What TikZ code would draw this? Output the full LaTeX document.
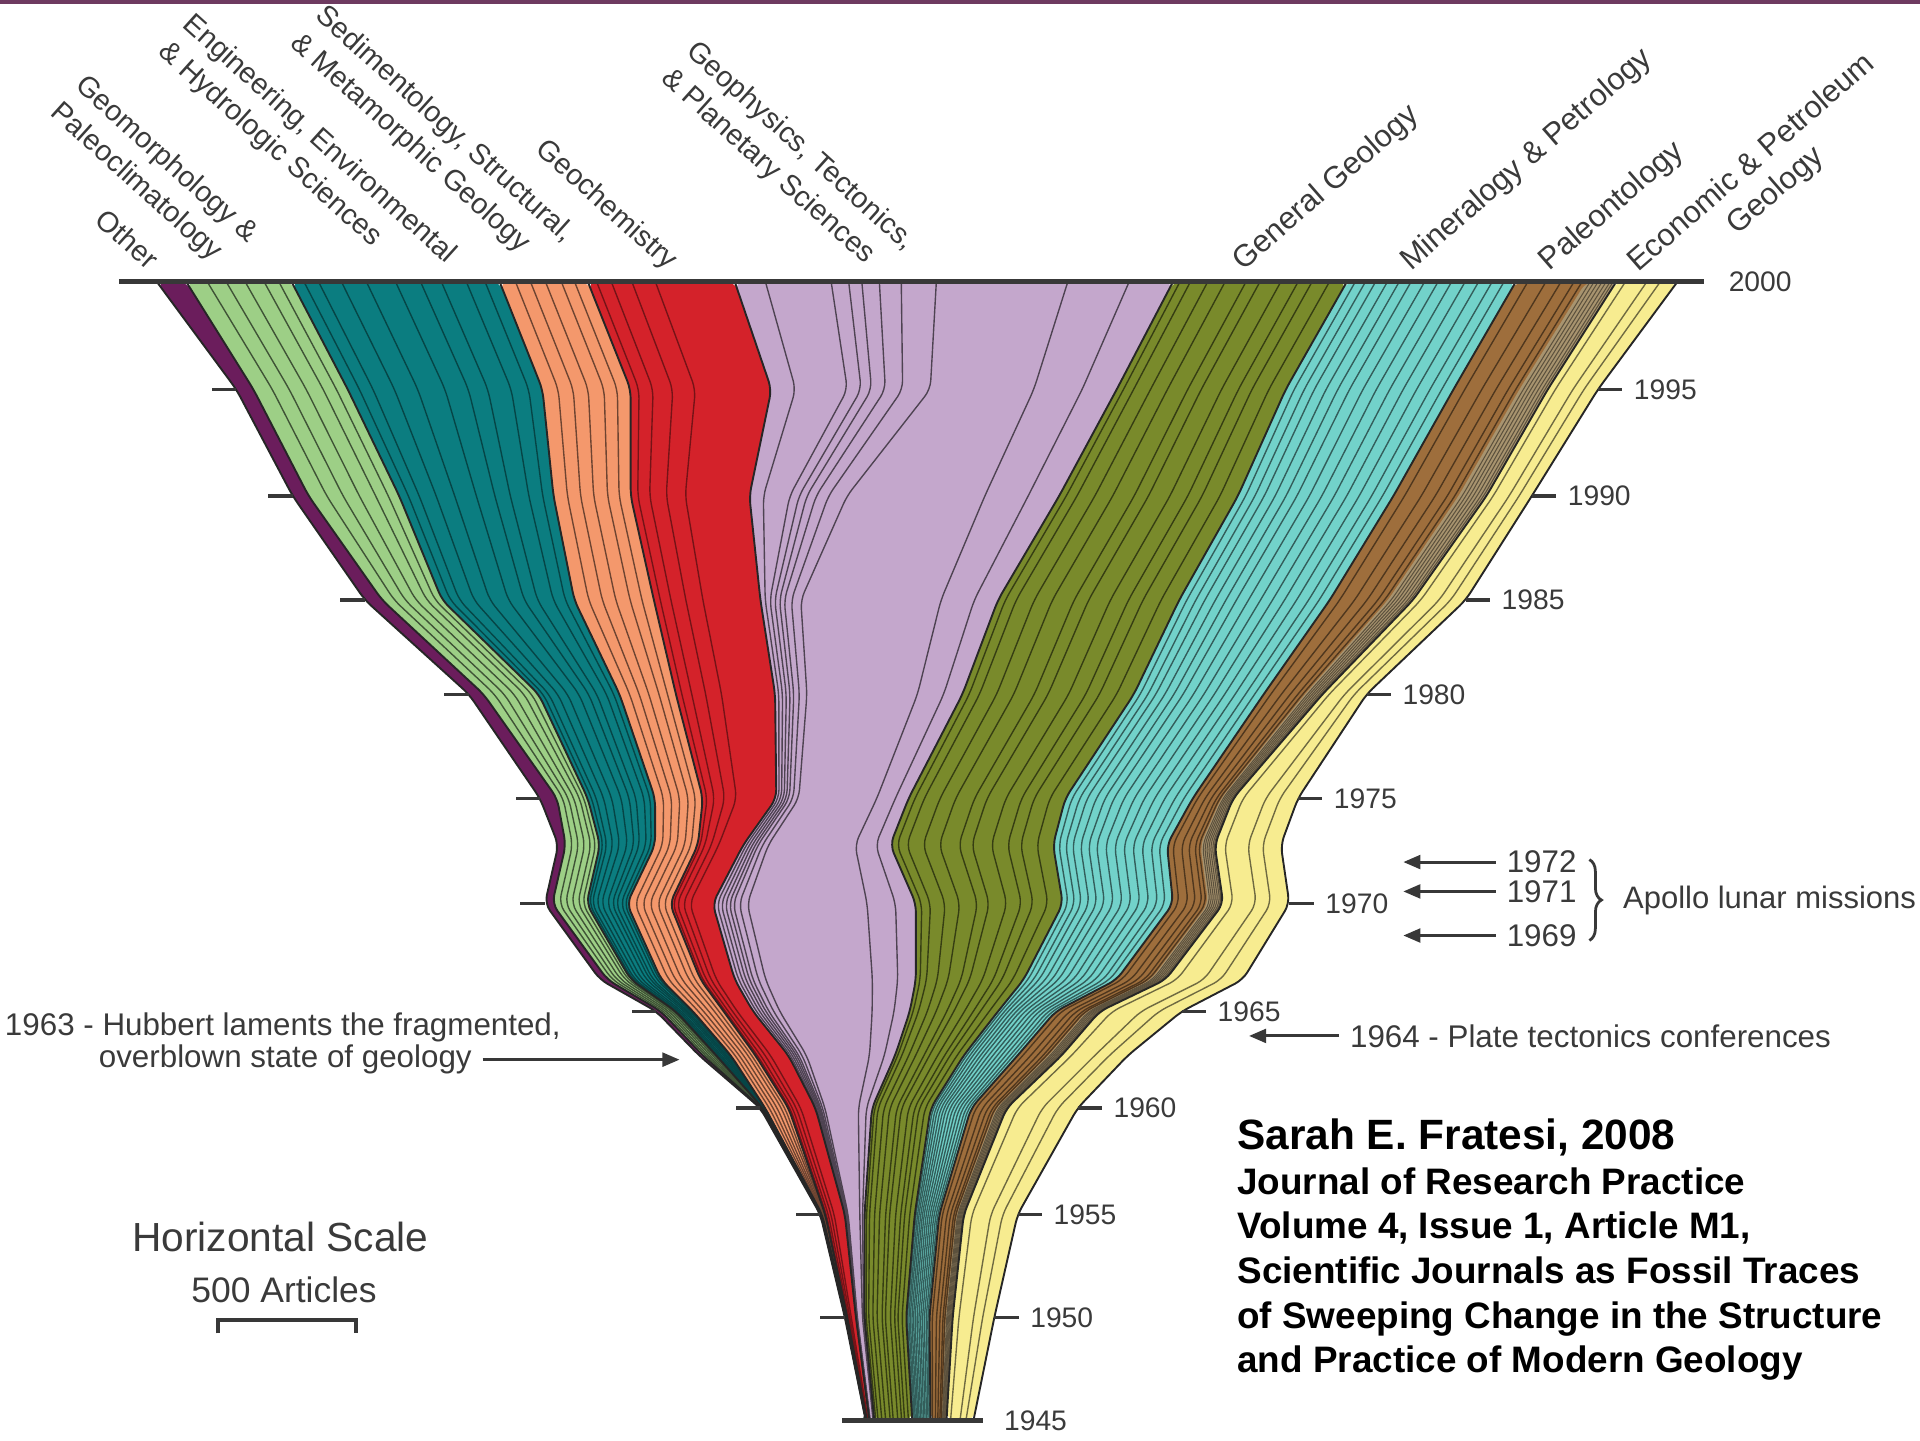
\documentclass[tikz,border=0pt]{standalone}
\usepackage{fontspec}
\setmainfont{Liberation Sans}
\usetikzlibrary{calc,arrows.meta,decorations.pathreplacing}

\definecolor{otherc}{HTML}{6B1D5C}
\definecolor{geomorc}{HTML}{9DCF86}
\definecolor{engc}{HTML}{0B7D80}
\definecolor{sedc}{HTML}{F4986C}
\definecolor{chemc}{HTML}{D4222A}
\definecolor{physc}{HTML}{C4A7CC}
\definecolor{genc}{HTML}{798A2B}
\definecolor{minc}{HTML}{72D2CA}
\definecolor{paleoc}{HTML}{9E6E3C}
\definecolor{khakic}{HTML}{A8946F}
\definecolor{econc}{HTML}{F7EC90}
\definecolor{labelgray}{HTML}{3A3A3A}
\definecolor{rulegray}{HTML}{383838}
\definecolor{topstrip}{HTML}{6E3A60}

% y of the levels 2000,1995,1990,1985,1980,1975,1972,1970,1967,1965,1963,1960,1955,1950,1945
\newcommand{\ylev}{{230,318,405,490,567,652,690,738,800,826,862,905,992,1076,1160}}
\newcommand{\setbound}[2]{%
  \foreach \xx [count=\lv from 0] in {#2} {%
    \pgfmathsetmacro{\yy}{\ylev[\lv]}%
    \coordinate (b#1-\lv) at (\xx,\yy);}}
\newcommand{\fillband}[3]{%
  \fill[#3,rounded corners=2.5pt] (b#1-0) \foreach \lv in {1,...,14}{ -- (b#1-\lv)}
    \foreach \lv in {14,13,...,0}{ -- (b#2-\lv)} -- cycle;}
\newcommand{\journals}[4]{%
  \foreach \fr in {#4}{%
    \draw[journal,#3] ($(b#1-0)!\fr!(b#2-0)$)
      \foreach \lv in {1,...,14}{ -- ($(b#1-\lv)!\fr!(b#2-\lv)$)};}}

\begin{document}
\begin{tikzpicture}[x=0.0125cm,y=-0.0125cm,
    journal/.style={line width=0.4pt,line join=round,rounded corners=2.5pt},
    bound/.style={draw=black!85,line width=0.55pt,line join=round,rounded corners=2.5pt},
    axis/.style={draw=rulegray,line width=1.3pt},
    tick/.style={draw=rulegray,line width=1pt},
    yearlbl/.style={anchor=west,inner sep=0pt,xshift=0.1cm,text=labelgray,font=\fontsize{8.2}{9}\selectfont},
    catlbl/.style={inner sep=0pt,text=labelgray,align=left,font=\fontsize{9}{10.7}\selectfont},
    leftlbl/.style={catlbl,rotate=-42,anchor=north west,font=\fontsize{8.4}{10.7}\selectfont},
    rightlbl/.style={catlbl,rotate=41,anchor=base west},
    note/.style={inner sep=0pt,text=labelgray,font=\fontsize{9.1}{9.6}\selectfont},
    arr/.style={draw=rulegray,line width=0.9pt,-{Triangle[length=5pt,width=4pt]},shorten <=3pt},
    cite/.style={anchor=base west,inner sep=0pt,font=\bfseries\fontsize{10.7}{13}\selectfont}]
\useasboundingbox (0,0) rectangle (1568,1176);
\fill[topstrip] (0,0) rectangle (1568,3);

% band boundaries, left to right
\setbound{0}{128,193,239,298,383,441,456,445,490,536,571,621,670,690,707}
\setbound{1}{152,207,252,312,395,455,462,451,496,540,574,622,670.5,690.5,707.2}
\setbound{2}{238,284,326,361,440,480,490,479,515,552,585,623,671,691,707.4}
\setbound{3}{408,443,452,469,506,535,535,512,540,566,597,625,671.5,691.5,707.6}
\setbound{4}{480,515,515,534,552,574,570,547,572,591,617,644,674,692,708}
\setbound{5}{600,630,612,621,633,634,607,582,600,615,644,666,690,699,710}
\setbound{6}{958,912,865,815,786,742,727,748,748,743,731,712,706,706,714}
\setbound{7}{1100,1050,1011,963,926,870,860,868,836,815,787,760,747,740,745}
\setbound{8}{1238,1187,1138,1086,1032,974,953,958,912,862,831,793,767,759,760}
\setbound{9}{1320,1264,1214,1154,1080,1007,992,999,952,898,867,822,787,778,773}
\setbound{10}{1370,1305,1251,1197,1116,1060,1046,1053,1015,965,921,880,831,812,795}

% fields
\fillband{0}{1}{otherc}
\fillband{1}{2}{geomorc}
\fillband{2}{3}{engc}
\fillband{3}{4}{sedc}
\fillband{4}{5}{chemc}
\fillband{5}{6}{physc}
\fillband{6}{7}{genc}
\fillband{7}{8}{minc}
\fillband{8}{9}{paleoc}
\fillband{9}{10}{econc}
\fill[khakic,rounded corners=2.5pt] ($(b8-0)!0.7!(b9-0)$) \foreach \lv in {1,...,14}{ -- ($(b8-\lv)!0.7!(b9-\lv)$)}
  \foreach \lv in {14,13,...,0}{ -- (b9-\lv)} -- cycle;

% single journals
\journals{1}{2}{draw=geomorc!40!black}{0.2,0.38,0.56,0.74,0.88}
\journals{2}{3}{draw=engc!55!black}{0.06,0.13,0.24,0.36,0.5,0.62,0.72,0.84,0.93}
\journals{3}{4}{draw=sedc!45!black}{0.18,0.35,0.52,0.7,0.85}
\journals{4}{5}{draw=chemc!55!black}{0.06,0.16,0.3,0.46}
\journals{5}{6}{draw=physc!40!black}{0.76,0.9}
\foreach \ta/\tb in {0.07/0.02,0.22/0.04,0.26/0.06,0.29/0.08,0.33/0.1,0.38/0.13,0.46/0.17}{
  \draw[journal,draw=physc!40!black] ($(b5-0)!\ta!(b6-0)$)
    \foreach \lv in {1,...,14}{ -- ($(b5-\lv)!{\tb+(\ta-\tb)*min(1,max(0,(3-\lv)/2))}!(b6-\lv)$)};}
\journals{6}{7}{draw=genc!45!black}{0.04,0.1,0.2,0.3,0.42,0.5,0.62,0.72,0.8,0.9}
\journals{7}{8}{draw=minc!45!black}{0.05,0.11,0.17,0.24,0.31,0.38,0.46,0.54,0.62,0.7,0.78,0.86,0.93}
\journals{8}{9}{draw=paleoc!50!black}{0.12,0.3,0.45,0.58,0.66}
\journals{8}{9}{draw=khakic!55!black,line width=0.3pt}{0.74,0.78,0.82,0.86,0.9,0.94,0.97}
\journals{9}{10}{draw=econc!45!black}{0.15,0.5,0.72}

\foreach \b in {0,...,10}{
  \draw[bound] (b\b-0) \foreach \lv in {1,...,14}{ -- (b\b-\lv)};}

% time axis
\coordinate (top0) at (97,230);
\coordinate (top1) at (1392,230);
\coordinate (bot0) at (688,1160);
\coordinate (bot1) at (803,1160);
\draw[axis] (top0) -- (top1) node[yearlbl,xshift=0.125cm] (y2000) {2000};
\draw[axis] (bot0) -- (bot1) node[yearlbl,xshift=0.09cm] (y1945) {1945};
\foreach \lv/\yr in {1/1995,2/1990,3/1985,4/1980,5/1975,7/1970,9/1965,11/1960,12/1955,13/1950}{
  \draw[tick] (b0-\lv) -- ++(-20,0);
  \draw[tick] (b10-\lv) -- ++(20,0) node[yearlbl] (y\yr) {\yr};
}

% field names
\node[leftlbl] (lother) at (88,168) {Other};
\node[leftlbl] (lgeomor) at (72,58) {Geomorphology \&\\Paleoclimatology};
\node[leftlbl] (leng) at (160,8) {Engineering, Environmental\\\& Hydrologic Sciences};
\node[leftlbl] (lsed) at (268,1) {Sedimentology, Structural,\\\& Metamorphic Geology};
\node[leftlbl] (lchem) at (448,110) {Geochemistry};
\node[leftlbl] (lphys) at (571,30) {Geophysics, Tectonics,\\\& Planetary Sciences};
\node[rightlbl] (lgen) at (1015,222) {General Geology};
\node[rightlbl] (lmin) at (1152,222) {Mineralogy \& Petrology};
\node[rightlbl] (lpaleo) at (1265,222) {Paleontology};
\node[rightlbl,anchor=north west,align=center] (lecon) at (1325,209) {Economic \& Petroleum\\Geology};

% Apollo
\foreach \yr/\yy in {1972/704,1971/728,1969/764}{
  \node[note,anchor=west,font=\fontsize{9.1}{10}\selectfont] (a\yr) at (1230,\yy) {\yr};
  \coordinate (t\yr) at (1146,\yy);
  \draw[arr] (a\yr) -- (t\yr);
}
\draw[draw=rulegray,line width=0.8pt,decorate,decoration={brace,amplitude=3.5pt}] (1298,702) -- (1298,768);
\node[note,anchor=west,font=\fontsize{9}{10}\selectfont] (apollo) at (1325,735) {Apollo lunar missions};

% events
\node[note,anchor=base] (hub1) at (231,846) {1963 - Hubbert laments the fragmented,};
\node[note,anchor=base] (hub2) at (233,872) {overblown state of geology};
\coordinate (hubtip) at (555,864);
\draw[arr] (hub2.east) -- (hubtip |- hub2.east);
\node[note,anchor=west] (plate) at (1102,846) {1964 - Plate tectonics conferences};
\coordinate (platetip) at (1020,846);
\draw[arr] (plate.west) -- (platetip |- plate.west);

% scale
\node[note,font=\fontsize{11.8}{12}\selectfont] (hscale) at (229,1010) {Horizontal Scale};
\node[note,font=\fontsize{10.3}{11}\selectfont] (arts) at (232,1053) {500 Articles};
\draw[draw=rulegray,line width=1.1pt] (178,1089) -- (178,1078) -- (291,1078) -- (291,1089);

% source
\node[cite,font=\bfseries\fontsize{12.3}{14}\selectfont] (cite0) at (1010,939) {Sarah E. Fratesi, 2008};
\foreach \t [count=\i] in {Journal of Research Practice,{Volume 4, Issue 1, Article M1,},Scientific Journals as Fossil Traces,of Sweeping Change in the Structure,and Practice of Modern Geology}
  \node[cite] (cite\i) at (1010,{939+36.4*\i}) {\t};
\end{tikzpicture}
\end{document}
